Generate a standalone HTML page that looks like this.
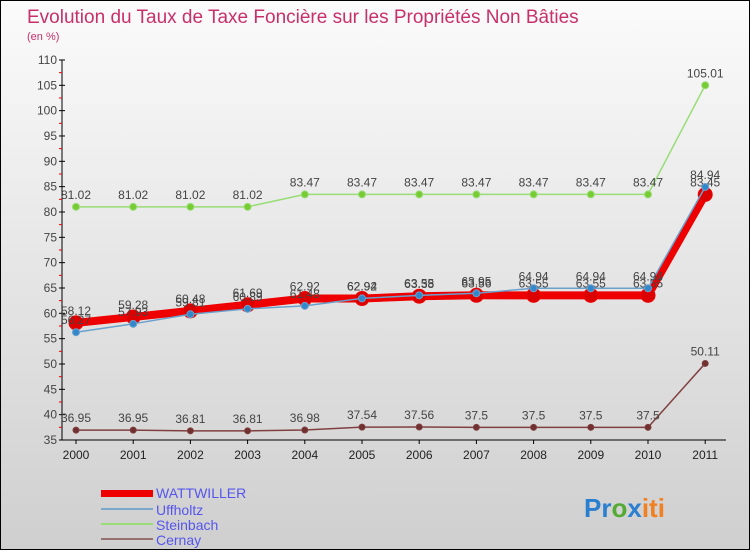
<!DOCTYPE html>
<html><head><meta charset="utf-8"><style>
body{margin:0;width:750px;height:550px;overflow:hidden}
#c{position:relative;width:748px;height:548px;border:1px solid #000;background:linear-gradient(#fbfbfb,#cfcfcf);font-family:"Liberation Sans",sans-serif}
</style></head><body>
<div id="c">
<svg width="748" height="548" id="s">
<text x="26" y="22" font-size="19" fill="#c8306a">Evolution du Taux de Taxe Foncière sur les Propriétés Non Bâties</text>
<text x="26" y="39" font-size="11" fill="#c8306a">(en %)</text>
<g id="g"></g>
<g>
<rect x="100" y="489" width="52" height="7" fill="#e00"/>
<text x="155" y="497" font-size="14" fill="#5555ee">WATTWILLER</text>
<rect x="100" y="507" width="52" height="2" fill="#7aa8cc"/>
<text x="155" y="514" font-size="14" fill="#5555ee">Uffholtz</text>
<rect x="100" y="522" width="52" height="2" fill="#99dd77"/>
<text x="155" y="529" font-size="14" fill="#5555ee">Steinbach</text>
<rect x="100" y="537" width="52" height="2" fill="#997070"/>
<text x="155" y="544" font-size="14" fill="#5555ee">Cernay</text>
</g>
<text x="583" y="516" font-size="26" font-weight="bold"><tspan fill="#2a7fd0">Pr</tspan><tspan fill="#55aa33">o</tspan><tspan fill="#2a7fd0">x</tspan><tspan fill="#f08020">iti</tspan></text>
</svg></div>
<script>
const years=["2000","2001","2002","2003","2004","2005","2006","2007","2008","2009","2010","2011"];
const yTicks=[35,40,45,50,55,60,65,70,75,80,85,90,95,100,105,110];
const wattwiller=[58.12,59.28,60.48,61.69,62.92,62.92,63.38,63.56,63.55,63.55,63.55,83.45];
const uffholtz=[56.27,57.93,59.81,60.89,61.48,62.94,63.55,63.95,64.94,64.94,64.94,84.94];
const steinbach=[81.02,81.02,81.02,81.02,83.47,83.47,83.47,83.47,83.47,83.47,83.47,105.01];
const cernay=[36.95,36.95,36.81,36.81,36.98,37.54,37.56,37.5,37.5,37.5,37.5,50.11];
const NS="http://www.w3.org/2000/svg",g=document.getElementById('g');
const X=i=>75+i*57.2, Y=v=>439-(v-35)*5.067;
function mk(t,a,p){const e=document.createElementNS(NS,t);for(const k in a)e.setAttribute(k,a[k]);(p||g).appendChild(e);return e;}
const ax=mk('line',{x1:61,y1:Y(110),x2:61,y2:Y(35),stroke:'#000'});


const xa=mk('line',{x1:61,y1:Y(35),x2:725,y2:Y(35),stroke:'#000'});


yTicks.forEach(v=>{
 mk('line',{x1:58,y1:Y(v),x2:64,y2:Y(v),stroke:'#000'});
 if(v<110)mk('line',{x1:58,y1:Y(v+2.5),x2:61,y2:Y(v+2.5),stroke:'#e00'});
 const t=mk('text',{x:56,y:Y(v)+4,'font-size':12,fill:'#444','text-anchor':'end'});t.textContent=v;
 
 
});
years.forEach((y,i)=>{
 mk('line',{x1:X(i),y1:Y(35),x2:X(i),y2:Y(35)+4,stroke:'#000'});
 const t=mk('text',{x:X(i),y:Y(35)+19,'font-size':12,fill:'#222','text-anchor':'middle'});t.textContent=y;
 
 
});
function series(d,name,col,w,r,dot){
 const pl=mk('polyline',{points:d.map((v,i)=>X(i)+','+Y(v)).join(' '),fill:'none',stroke:col,'stroke-width':w,'stroke-linejoin':'round'});
 
 
 d.forEach((v,i)=>{
  const c=mk('circle',{cx:X(i),cy:Y(v),r:r,fill:dot,stroke:col,'stroke-width':1});
  
  
  const t=mk('text',{x:X(i),y:Y(v)-8,'font-size':12,fill:'#444','text-anchor':'middle'});t.textContent=v;
  
  
 });
}
series(cernay,'cernay','#804040',1.5,3,'#703030');
series(steinbach,'steinbach','#99dd77',1.5,3.5,'#77cc33');
series(wattwiller,'wattwiller','#ee0000',8,7,'#dd0000');
series(uffholtz,'uffholtz','#6aa0cc',1.5,3.5,'#3388cc');
</script>
</body></html>
